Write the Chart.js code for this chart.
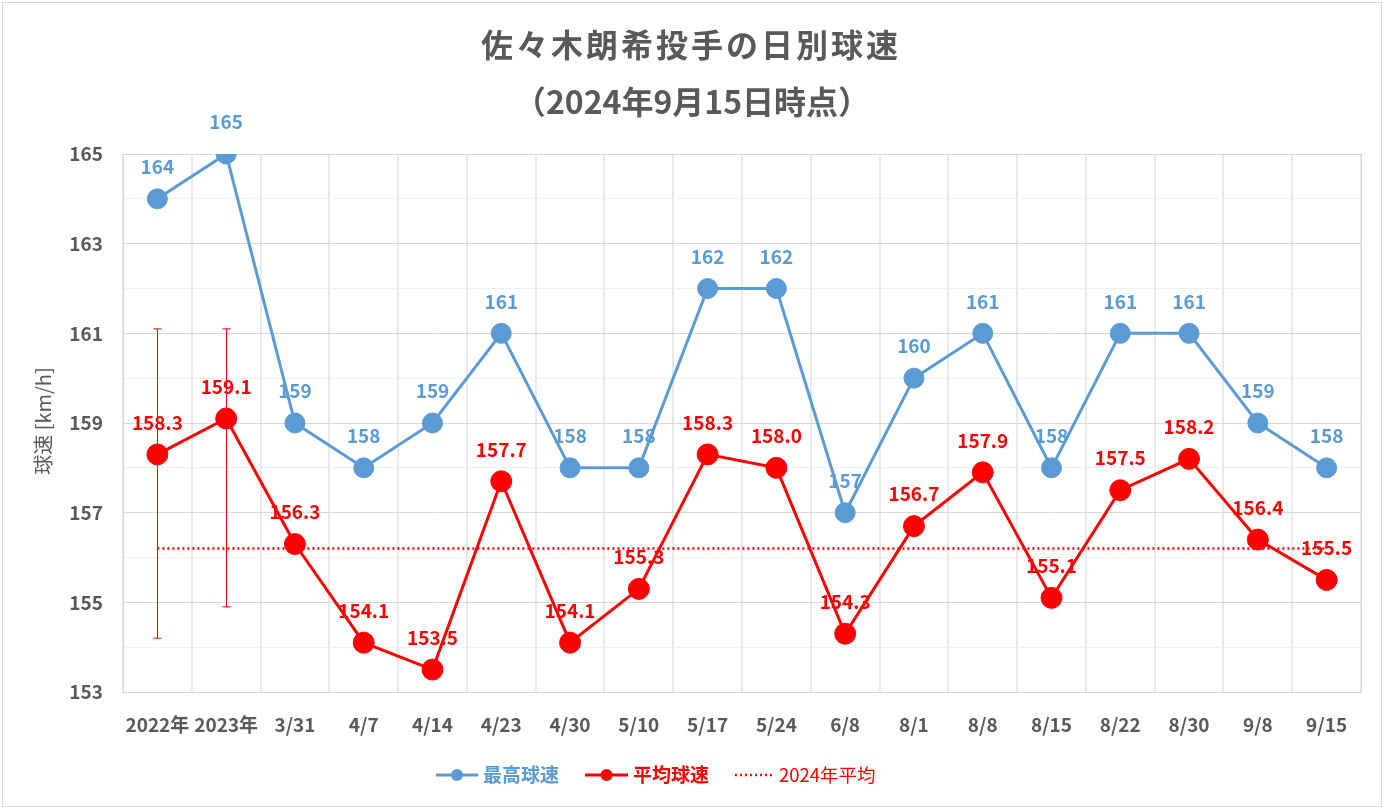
<!DOCTYPE html>
<html>
<head>
<meta charset="utf-8">
<script src="https://cdn.jsdelivr.net/npm/chart.js@4"></script>
<style>
  body { margin: 0; background: #fff; }
  #wrap { width: 1384px; height: 810px; }
</style>
</head>
<body>
<div id="wrap"><canvas id="speedChart" width="1384" height="810"></canvas></div>
<script>
const labels = ["2022年", "2023年", "3/31", "4/7", "4/14", "4/23", "4/30", "5/10", "5/17", "5/24", "6/8", "8/1", "8/8", "8/15", "8/22", "8/30", "9/8", "9/15"];
const maxSpeed = [164, 165, 159, 158, 159, 161, 158, 158, 162, 162, 157, 160, 161, 158, 161, 161, 159, 158];
const avgSpeed = [158.3, 159.1, 156.3, 154.1, 153.5, 157.7, 154.1, 155.3, 158.3, 158.0, 154.3, 156.7, 157.9, 155.1, 157.5, 158.2, 156.4, 155.5];
// 2022/2023 only have range bars
const errHigh = [161.1, 161.1, null, null, null, null, null, null, null, null, null, null, null, null, null, null, null, null];
const errLow = [154.2, 154.9, null, null, null, null, null, null, null, null, null, null, null, null, null, null, null, null];
const avg2024 = 156.2;
const yTicks = [153, 155, 157, 159, 161, 163, 165];

const BLUE = "#5b9bd5";
const RED = "#ff0000";
const GRAY = "#595959";
const JP = "'Noto Sans CJK JP', 'Noto Sans', sans-serif";

const frame = {
  id: "frame",
  beforeDatasetsDraw(chart) {
    const { ctx, chartArea: a } = chart;
    ctx.save();
    ctx.strokeStyle = "#d9d9d9";
    ctx.lineWidth = 1;
    ctx.strokeRect(a.left + 0.5, a.top + 0.5, a.right - a.left, a.bottom - a.top);
    // range bars
    const x = chart.scales.x, y = chart.scales.y;
    ctx.strokeStyle = RED;
    errHigh.forEach((hi, i) => {
      if (hi == null) return;
      const px = Math.round(x.getPixelForValue(i)) + 0.5;
      const top = y.getPixelForValue(hi), bot = y.getPixelForValue(errLow[i]);
      ctx.beginPath();
      ctx.moveTo(px, top); ctx.lineTo(px, bot);
      ctx.moveTo(px - 4, top); ctx.lineTo(px + 4, top);
      ctx.moveTo(px - 4, bot); ctx.lineTo(px + 4, bot);
      ctx.stroke();
    });
    ctx.restore();
  },
  afterDatasetsDraw(chart) {
    const ctx = chart.ctx;
    ctx.save();
    ctx.font = "bold 19px " + JP;
    ctx.textAlign = "center";
    ctx.textBaseline = "middle";
    [[0, BLUE, v => String(v)], [1, RED, v => v.toFixed(1)]].forEach(([di, col, fmt]) => {
      const meta = chart.getDatasetMeta(di);
      ctx.fillStyle = col;
      meta.data.forEach((pt, i) => {
        ctx.fillText(fmt(chart.data.datasets[di].data[i]), pt.x, pt.y - 32);
      });
    });
    ctx.restore();
  },
  afterDraw(chart) {
    const ctx = chart.ctx;
    ctx.save();
    // outer border
    ctx.strokeStyle = "#d9d9d9";
    ctx.lineWidth = 1;
    ctx.strokeRect(2.5, 2.5, 1379, 804);
    // title
    ctx.fillStyle = GRAY;
    ctx.textAlign = "center";
    ctx.textBaseline = "middle";
    ctx.font = "bold 32px " + JP;
    ctx.letterSpacing = "3px";
    ctx.fillText("佐々木朗希投手の日別球速", 691, 45);
    ctx.letterSpacing = "0px";
    ctx.fillText("（2024年9月15日時点）", 692, 102);
    // y title
    ctx.font = "20px " + JP;
    ctx.translate(43, 421);
    ctx.rotate(-Math.PI / 2);
    ctx.fillText("球速 [km/h]", 0, 0);
    ctx.restore();

    // legend
    ctx.save();
    const ly = 775;
    ctx.textBaseline = "middle";
    ctx.textAlign = "left";
    const item = (x0, x1, col, text, bold, dotted) => {
      ctx.strokeStyle = col;
      ctx.fillStyle = col;
      ctx.lineWidth = dotted ? 2.5 : 3;
      ctx.setLineDash(dotted ? [2, 3] : []);
      ctx.beginPath(); ctx.moveTo(x0, ly); ctx.lineTo(x1, ly); ctx.stroke();
      ctx.setLineDash([]);
      if (!dotted) {
        ctx.beginPath(); ctx.arc((x0 + x1) / 2, ly, 6, 0, Math.PI * 2); ctx.fill();
      }
      ctx.font = (bold ? "bold 19px " : "18.5px ") + JP;
      ctx.fillText(text, x1 + 5, ly);
    };
    item(436, 478, BLUE, "最高球速", true, false);
    item(585, 628, RED, "平均球速", true, false);
    item(735, 774, RED, "2024年平均", false, true);
    ctx.restore();
  }
};

new Chart(document.getElementById("speedChart"), {
  type: "line",
  data: {
    labels: labels,
    datasets: [
      {
        label: "最高球速",
        data: maxSpeed,
        borderColor: BLUE,
        backgroundColor: BLUE,
        borderWidth: 3,
        pointRadius: 10,
        pointBorderWidth: 1,
        pointBackgroundColor: BLUE,
        order: 2
      },
      {
        label: "平均球速",
        data: avgSpeed,
        borderColor: RED,
        backgroundColor: RED,
        borderWidth: 3,
        pointRadius: 10.5,
        pointBorderWidth: 1,
        pointBackgroundColor: RED,
        order: 1
      },
      {
        label: "2024年平均",
        data: labels.map(() => avg2024),
        borderColor: RED,
        borderWidth: 2.5,
        borderDash: [2, 3],
        pointRadius: 0,
        order: 3
      }
    ]
  },
  options: {
    responsive: false,
    animation: false,
    layout: { padding: { left: 0, right: 23, top: 154, bottom: 68 } },
    plugins: {
      legend: { display: false },
      title: { display: false },
      tooltip: { enabled: false }
    },
    scales: {
      x: {
        offset: true,
        grid: { offset: true, color: "#e9e9e9", lineWidth: 2, drawTicks: false },
        border: { display: false },
        ticks: {
          color: GRAY, padding: 21, maxRotation: 0, autoSkip: false,
          font: { family: JP, size: 19, weight: "bold" }
        },
        afterFit: s => { s.height = 50; }
      },
      y: {
        min: 153,
        max: 165,
        ticks: {
          stepSize: 1,
          color: GRAY,
          padding: 20,
          font: { family: JP, size: 19, weight: "bold" },
          callback: v => (yTicks.includes(v) ? v : "")
        },
        grid: {
          drawTicks: false,
          color: c => (yTicks.includes(c.tick.value) ? "#d9d9d9" : "#f0f0f0")
        },
        border: { color: "#d9d9d9" },
        afterFit: s => { s.width = 123; }
      }
    }
  },
  plugins: [frame]
});
</script>
</body>
</html>
